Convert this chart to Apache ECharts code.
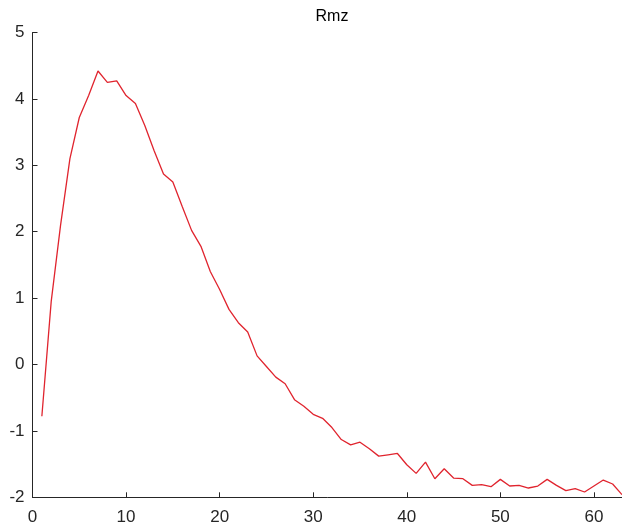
<!DOCTYPE html>
<html>
<head>
<meta charset="utf-8">
<script src="https://cdn.jsdelivr.net/npm/echarts@6/dist/echarts.min.js"></script>
<style>
html,body{margin:0;padding:0;background:#fff;}
#chart{width:622px;height:528px;}
</style>
</head>
<body>
<div id="chart"></div>
<script>
const titleText = "Rmz";
const xValues = [1,2,3,4,5,6,7,8,9,10,11,12,13,14,15,16,17,18,19,20,21,22,23,24,25,26,27,28,29,30,31,32,33,34,35,36,37,38,39,40,41,42,43,44,45,46,47,48,49,50,51,52,53,54,55,56,57,58,59,60,61,62,63];
const rmzValues = [-0.78,0.95,2.1,3.1,3.72,4.05,4.42,4.25,4.27,4.05,3.93,3.6,3.22,2.87,2.75,2.38,2.02,1.78,1.40,1.13,0.83,0.63,0.49,0.13,-0.03,-0.19,-0.29,-0.53,-0.63,-0.75,-0.81,-0.95,-1.13,-1.21,-1.17,-1.27,-1.38,-1.36,-1.34,-1.51,-1.64,-1.47,-1.72,-1.57,-1.71,-1.72,-1.82,-1.81,-1.84,-1.73,-1.83,-1.82,-1.86,-1.83,-1.73,-1.82,-1.90,-1.87,-1.92,-1.83,-1.74,-1.80,-1.96];
const xTicks = [0,10,20,30,40,50,60];
const yTicks = [-2,-1,0,1,2,3,4,5];

const chart = echarts.init(document.getElementById('chart'), null, {renderer:'canvas'});
const axisColor = '#262626';
const font = 'Liberation Sans, Arial, Helvetica, sans-serif';
chart.setOption({
  animation: false,
  backgroundColor: '#ffffff',
  title: {
    text: titleText,
    left: 327, top: 4, textAlign: 'center',
    textStyle: {fontFamily: font, fontSize: 16, fontWeight: 'normal', color: '#000000'}
  },
  grid: {left: 32.5, right: 0, top: 32.5, bottom: 30.7, containLabel: false},
  xAxis: {
    type: 'value', min: 0, max: 63, interval: 10,
    axisLine: {show: true, onZero: false, lineStyle: {color: axisColor, width: 1}},
    axisTick: {show: true, inside: true, length: 5, lineStyle: {color: axisColor}},
    axisLabel: {
      color: axisColor, fontFamily: font, fontSize: 17, margin: 12,
      formatter: v => xTicks.includes(v) ? String(v) : '',
      showMaxLabel: false
    },
    splitLine: {show: false}
  },
  yAxis: {
    type: 'value', min: -2, max: 5, interval: 1,
    axisLine: {show: true, onZero: false, lineStyle: {color: axisColor, width: 1}},
    axisTick: {show: true, inside: true, length: 5, lineStyle: {color: axisColor}},
    axisLabel: {
      color: axisColor, fontFamily: font, fontSize: 17, margin: 8,
      formatter: v => yTicks.includes(v) ? String(v) : ''
    },
    splitLine: {show: false}
  },
  series: [{
    type: 'line',
    data: xValues.map((x, i) => [x, rmzValues[i]]),
    showSymbol: false,
    lineStyle: {color: '#e0242e', width: 1.3},
    clip: false
  }]
});
</script>
</body>
</html>
